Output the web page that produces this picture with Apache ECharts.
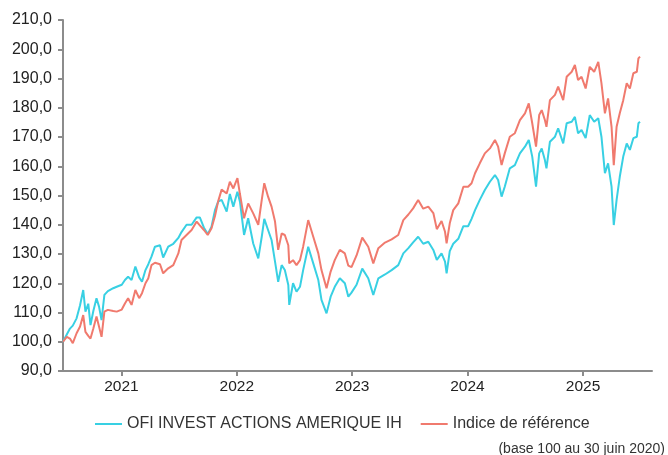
<!DOCTYPE html>
<html>
<head>
<meta charset="utf-8">
<script src="https://cdn.jsdelivr.net/npm/echarts@6/dist/echarts.min.js"></script>
<style>
  html, body { margin: 0; padding: 0; background: #fff; }
  #chart { width: 668px; height: 455px; }
</style>
</head>
<body>
<div id="chart"></div>
<script>
const dates = [
  '2020-06-30','2020-07-12','2020-07-22','2020-07-31','2020-08-12','2020-08-23','2020-09-02','2020-09-09',
  '2020-09-18','2020-09-25','2020-10-04','2020-10-14','2020-10-22','2020-10-30','2020-11-08','2020-11-19',
  '2020-12-06','2020-12-17','2021-01-02','2021-01-12','2021-01-22','2021-02-02','2021-02-14','2021-02-26',
  '2021-03-07','2021-03-18','2021-03-27','2021-04-06','2021-04-17','2021-05-03','2021-05-13','2021-05-29',
  '2021-06-14','2021-06-30','2021-07-10','2021-07-26','2021-08-11','2021-08-27','2021-09-06','2021-09-19',
  '2021-10-01','2021-10-13','2021-10-24','2021-11-03','2021-11-14','2021-11-30','2021-12-10','2021-12-21',
  '2022-01-03','2022-01-11','2022-01-24','2022-02-06','2022-02-22','2022-03-10','2022-03-21','2022-03-29',
  '2022-04-10','2022-04-21','2022-05-02','2022-05-12','2022-05-23','2022-06-02','2022-06-13','2022-06-16',
  '2022-06-28','2022-07-09','2022-07-20','2022-07-30','2022-08-15','2022-08-31','2022-09-16','2022-09-26',
  '2022-10-12','2022-10-25','2022-11-07','2022-11-23','2022-12-09','2022-12-20','2022-12-30','2023-01-15',
  '2023-02-02','2023-02-21','2023-03-09','2023-03-25','2023-04-15','2023-05-06','2023-05-27','2023-06-12',
  '2023-06-28','2023-07-13','2023-07-29','2023-08-14','2023-08-30','2023-09-15','2023-09-26','2023-10-11',
  '2023-10-22','2023-10-27','2023-11-06','2023-11-17','2023-12-03','2023-12-19','2024-01-03','2024-01-14',
  '2024-01-25','2024-02-09','2024-02-25','2024-03-12','2024-03-28','2024-04-07','2024-04-18','2024-04-28',
  '2024-05-14','2024-05-30','2024-06-15','2024-07-01','2024-07-13','2024-07-24','2024-08-05','2024-08-15',
  '2024-08-23','2024-09-02','2024-09-07','2024-09-18','2024-10-04','2024-10-14','2024-10-30','2024-11-10',
  '2024-11-26','2024-12-06','2024-12-16','2024-12-27','2025-01-09','2025-01-22','2025-02-05','2025-02-18',
  '2025-02-28','2025-03-11','2025-03-21','2025-04-01','2025-04-08','2025-04-17','2025-04-27','2025-05-08',
  '2025-05-19','2025-05-29','2025-06-09','2025-06-20','2025-06-25','2025-06-30'
];

const fund = [
  100, 102.5, 104.5, 105.5, 108, 112.5, 117.7, 110.3,
  113, 105.7, 110.5, 114.9, 112, 107.4, 116, 117.3,
  118.3, 118.8, 119.5, 121.1, 122.2, 121.1, 125.7, 122,
  120.5, 124.5, 126.5, 129.1, 132.5, 133, 128.8, 132.5,
  133.5, 135.5, 137.5, 140, 140, 142.5, 142.5, 139,
  136.8, 139.3, 145, 147.9, 148.5, 144.5, 150.5, 146.2,
  151.3, 147.9, 136.5, 142.2, 133.6, 128.5, 135.9, 142,
  138.2, 134.8, 127.4, 120.5, 126.2, 124.5, 119.4, 112.6,
  120, 117.1, 118.8, 124.5, 132.5, 126.8, 121.1, 114.3,
  109.7, 115.4, 118.8, 121.7, 120, 115.4, 116.8, 119.5,
  125, 121.7, 116, 121.7, 123, 124.5, 126.2, 130.2,
  132, 134, 135.9, 133.5, 134.2, 131.4, 128, 130.2,
  127.4, 123.4, 131, 133.5, 135.2, 139.5, 139.5, 142,
  145, 148.5, 151.9, 154.7, 157, 155.3, 149.6, 153,
  159.3, 160.4, 164.4, 166.7, 169, 163.3, 153, 164.4,
  166.1, 162.1, 159.3, 168.4, 170.1, 173, 167.8, 174.7,
  175.2, 176.9, 171.3, 172.4, 169.6, 177.5, 175.2, 176.4,
  170.1, 157.6, 161, 153, 139.9, 148.5, 156.4, 163.3,
  167.8, 165.6, 169.6, 170.1, 174.7, 175.2
];

const benchmark = [
  100, 101.7, 101.1, 99.5, 102.9, 105.2, 109.1, 103.4,
  102, 101.1, 104.5, 108.6, 105.2, 101.7, 110.3, 110.9,
  110.5, 110.3, 111, 113.1, 114.9, 112.6, 117.7, 114.9,
  116.6, 120, 121.7, 126.2, 127, 126.5, 123.4, 125.1,
  126.2, 130.2, 134.8, 136.5, 138.2, 141.1, 139.8, 138.2,
  136.5, 138.8, 143, 148, 152, 150.7, 154.7, 152.4,
  155.9, 150.5, 142.2, 147.3, 143.9, 140, 148.5, 154.2,
  149.6, 146.2, 141.1, 131.4, 137, 136.5, 133, 126.8,
  127.9, 126.2, 127.9, 132.5, 141.6, 135.9, 130.2, 124.5,
  118.3, 124, 127.9, 131.4, 130.2, 126, 125.5, 129.5,
  135.6, 132.5, 126.8, 132, 133.9, 135, 136.5, 141.6,
  143.5, 145.6, 148.5, 145.5, 146.2, 144, 138.5, 141.3,
  137.6, 133.6, 140.5, 145, 147.3, 153, 153, 154.2,
  157.6, 161, 164.4, 166.1, 169, 166.7, 160.4, 164.4,
  170.1, 171.3, 175.8, 178.1, 181.5, 174.7, 166.7, 177.5,
  179.2, 175.8, 173.5, 182.6, 184.4, 187.2, 182.6, 190.6,
  192.3, 194.6, 189.5, 190.6, 186.6, 194, 192.3, 195.7,
  188.4, 178.1, 183.2, 173.5, 160.4, 173.5, 178.1, 182.6,
  188.4, 186.6, 191.8, 192.3, 196.9, 197.5
];

const yearTicks = [2021, 2022, 2023, 2024, 2025];
const seriesNames = ['OFI INVEST ACTIONS AMERIQUE IH', 'Indice de référence'];

const chart = echarts.init(document.getElementById('chart'), null, { renderer: 'canvas' });

// 'YYYY-MM-DD' -> timestamp (heure locale)
const toTime = s => {
  const p = s.split('-').map(Number);
  return new Date(p[0], p[1] - 1, p[2]).getTime();
};
const tickTimes = yearTicks.map(y => new Date(y, 0, 1).getTime());
const pairs = arr => dates.map((d, i) => [toTime(d), arr[i]]);

const option = {
  animation: false,
  backgroundColor: '#fff',
  textStyle: { fontFamily: 'Liberation Sans, Arial, sans-serif' },
  grid: { left: 63, right: 16, top: 20, bottom: 84 },
  legend: {
    left: 90,
    top: 411,
    itemWidth: 27,
    itemHeight: 2,
    itemGap: 19,
    icon: 'rect',
    textStyle: { fontSize: 16, color: '#333' },
    data: seriesNames
  },
  xAxis: {
    type: 'value',
    min: toTime('2020-06-30'),
    max: toTime('2025-08-07'),
    axisLine: { lineStyle: { color: '#8c8c8c', width: 2 } },
    axisTick: { show: true, length: 5, lineStyle: { color: '#8c8c8c', width: 2 }, customValues: tickTimes },
    axisLabel: {
      customValues: tickTimes,
      fontSize: 15.5,
      color: '#222',
      margin: 8,
      formatter: v => String(new Date(v).getFullYear())
    },
    splitLine: { show: false }
  },
  yAxis: {
    type: 'value',
    min: 90,
    max: 210,
    interval: 10,
    axisLine: { show: true, lineStyle: { color: '#8c8c8c', width: 2 } },
    axisTick: { show: true, length: 5, lineStyle: { color: '#8c8c8c', width: 2 } },
    axisLabel: {
      fontSize: 16,
      color: '#222',
      margin: 11,
      formatter: v => v.toFixed(1).replace('.', ',')
    },
    splitLine: { show: false }
  },
  series: [
    {
      name: seriesNames[0],
      type: 'line',
      data: pairs(fund),
      showSymbol: false,
      color: '#38d0e3',
      lineStyle: { width: 2 }
    },
    {
      name: seriesNames[1],
      type: 'line',
      data: pairs(benchmark),
      showSymbol: false,
      color: '#f07a6e',
      lineStyle: { width: 2 }
    }
  ],
  graphic: [
    {
      type: 'text',
      right: 3,
      top: 442,
      style: {
        text: '(base 100 au 30 juin 2020)',
        fontSize: 14,
        fill: '#333',
        fontFamily: 'Liberation Sans, Arial, sans-serif'
      }
    }
  ]
};

chart.setOption(option);
</script>
</body>
</html>
